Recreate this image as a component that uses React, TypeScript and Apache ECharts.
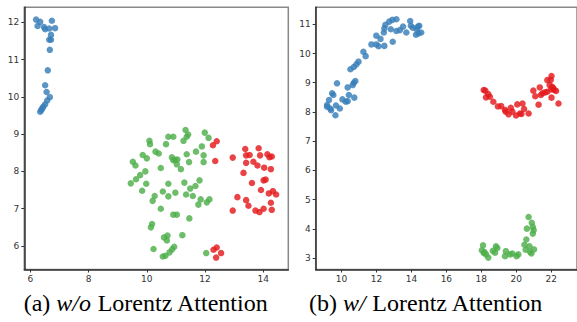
import React, { useEffect, useRef } from "react";
import * as echarts from "echarts";

// (a) w/o Lorentz Attention
const leftBlue: number[][] = [
  [6.2, 12.07], [6.25, 11.9], [6.34, 12.01], [6.47, 11.87], [6.51, 11.81], [6.65, 11.83],
  [6.74, 12.04], [6.85, 11.84], [6.71, 11.66], [6.65, 11.53], [6.71, 11.53], [6.67, 11.26],
  [6.6, 10.71], [6.51, 10.31], [6.56, 10.13], [6.67, 9.99], [6.58, 9.9], [6.51, 9.8],
  [6.45, 9.74], [6.41, 9.69], [6.34, 9.6], [6.38, 9.65],
];
const leftGreen: number[][] = [
  [11.33, 9.11], [11.42, 8.99], [11.37, 8.93], [11.26, 8.82], [10.74, 8.93], [10.91, 8.93],
  [10.09, 8.82], [10.11, 8.73], [10.66, 8.73], [10.3, 8.53], [10.41, 8.48], [9.86, 8.44],
  [10.0, 8.35], [9.52, 8.26], [9.61, 8.16], [10.86, 8.38], [10.97, 8.31], [10.91, 8.3],
  [11.05, 8.32], [11.03, 8.19], [11.17, 8.06], [11.37, 8.46], [11.45, 8.25], [11.69, 8.53],
  [11.89, 8.67], [11.95, 8.43], [11.95, 8.25], [11.99, 9.04], [12.12, 8.9], [10.48, 8.09],
  [9.95, 8.0], [9.77, 7.9], [9.63, 7.79], [9.45, 7.68], [9.98, 7.67], [10.74, 7.67],
  [11.29, 7.7], [11.49, 7.54], [11.67, 7.61], [11.81, 7.76], [9.84, 7.48], [10.27, 7.34],
  [10.55, 7.46], [10.98, 7.43], [11.35, 7.38], [11.58, 7.34], [10.2, 7.21], [10.74, 7.33],
  [11.85, 7.25], [12.15, 7.25], [12.06, 7.17], [11.77, 7.11], [10.48, 7.0], [10.91, 6.84],
  [11.03, 6.84], [11.46, 6.74], [10.18, 6.59], [10.14, 6.5], [10.59, 6.23], [10.71, 6.28],
  [10.69, 6.15], [11.22, 6.29], [10.23, 5.92], [10.55, 5.72], [10.64, 5.74], [10.78, 5.83],
  [10.87, 5.91], [10.94, 5.98], [12.04, 5.81],
];
const leftRed: number[][] = [
  [12.4, 8.81], [12.27, 8.7], [12.35, 8.28], [12.95, 8.37], [13.38, 8.6], [13.41, 8.43],
  [13.53, 8.44], [13.84, 8.62], [13.89, 8.43], [14.14, 8.46], [14.21, 8.38], [14.29, 8.4],
  [13.41, 8.23], [13.66, 8.26], [13.8, 8.16], [14.03, 8.1], [14.26, 8.06], [13.32, 7.96],
  [13.61, 7.69], [14.01, 7.76], [14.08, 7.78], [13.92, 7.5], [14.19, 7.41], [14.33, 7.47],
  [14.44, 7.38], [14.26, 7.16], [13.11, 7.31], [13.41, 7.23], [13.49, 7.08], [12.95, 6.95],
  [13.73, 6.95], [13.87, 6.91], [14.01, 7.0], [14.29, 6.97], [12.4, 5.96], [12.29, 5.9],
  [12.55, 5.81], [12.38, 5.69],
];

// (b) w/ Lorentz Attention
const rightBlue: number[][] = [
  [9.17, 8.24], [9.17, 8.18], [9.28, 8.41], [9.35, 8.12], [9.4, 8.06], [9.46, 8.64],
  [9.53, 8.58], [9.65, 7.89], [9.68, 8.22], [9.74, 8.98], [9.9, 8.12], [10.05, 8.43],
  [10.24, 8.35], [10.35, 8.37], [10.35, 8.84], [10.42, 8.58], [10.64, 8.92], [10.7, 9.0],
  [10.73, 8.49], [10.79, 9.06], [10.51, 9.46], [10.7, 9.54], [10.85, 9.63], [10.97, 9.72],
  [11.25, 10.06], [11.38, 9.91], [11.71, 10.31], [11.99, 10.61], [11.99, 10.31], [12.12, 10.25],
  [12.23, 10.5], [12.45, 10.26], [12.42, 10.72], [12.45, 10.86], [12.51, 10.98], [12.73, 11.09],
  [12.91, 11.15], [13.14, 11.17], [12.82, 10.83], [12.93, 10.4], [13.14, 10.77], [13.34, 10.8],
  [13.52, 10.92], [13.71, 10.72], [13.93, 11.11], [13.97, 10.95], [14.08, 10.88], [14.3, 10.83],
  [14.37, 10.92], [14.45, 10.95], [14.26, 10.64], [14.41, 10.69], [14.56, 10.72],
];
const rightRed: number[][] = [
  [18.14, 8.75], [18.23, 8.73], [18.4, 8.61], [18.27, 8.5], [18.49, 8.52], [18.69, 8.35],
  [18.95, 8.19], [19.14, 8.2], [19.36, 8.07], [19.4, 8.01], [19.56, 7.92], [19.69, 8.14],
  [19.78, 8.01], [19.99, 7.88], [20.06, 8.26], [20.21, 7.95], [20.3, 7.93], [20.36, 8.29],
  [20.45, 8.1], [20.71, 7.95], [20.98, 8.73], [21.09, 8.54], [21.28, 8.25], [21.35, 8.84],
  [21.41, 8.58], [21.5, 8.64], [21.65, 8.67], [21.78, 8.69], [21.78, 9.09], [21.98, 9.1],
  [22.02, 9.23], [21.91, 8.92], [22.0, 8.77], [22.06, 8.86], [22.13, 8.81], [22.18, 8.75],
  [22.28, 8.72], [22.02, 8.49], [22.42, 8.29],
];
const rightGreen: number[][] = [
  [18.1, 3.44], [18.03, 3.27], [18.14, 3.18], [18.27, 3.13], [18.18, 3.21], [18.4, 3.02],
  [18.66, 3.25], [18.79, 3.19], [18.84, 3.41], [18.92, 3.35], [19.36, 3.07], [19.41, 3.24],
  [19.65, 3.13], [19.78, 3.16], [20.02, 3.07], [20.12, 3.13], [20.47, 3.46], [20.54, 3.29],
  [20.58, 3.64], [20.61, 4.01], [20.71, 4.41], [20.76, 3.41], [20.8, 3.21], [20.87, 3.16],
  [20.89, 4.21], [20.95, 4.07], [20.95, 3.84], [21.0, 3.96], [21.02, 3.3],
];

const leftXTicks = [6, 8, 10, 12, 14];
const leftYTicks = [6, 7, 8, 9, 10, 11, 12];
const rightXTicks = [10, 12, 14, 16, 18, 20, 22];
const rightYTicks = [3, 4, 5, 6, 7, 8, 9, 10, 11];

const BLUE = "#377eb8";
const GREEN = "#4daf4a";
const RED = "#e41a1c";

export default function App() {
  const ref = useRef<HTMLDivElement>(null);
  useEffect(() => {
    if (!ref.current) return;
    const chart = echarts.init(ref.current, undefined, { renderer: "svg" });
    const labelStyle = { color: "#333", fontSize: 9, fontFamily: "DejaVu Sans" };
    const mkAxis = (gridIndex: number, min: number, max: number, ticks: number[]) => ({
      type: "value",
      gridIndex,
      min,
      max,
      splitLine: { show: false },
      axisLine: { show: true, onZero: false, lineStyle: { color: "#333", width: 1.5 } },
      axisTick: { show: true, length: 3, customValues: ticks, lineStyle: { color: "#333" } },
      axisLabel: { ...labelStyle, margin: 5, customValues: ticks },
    });
    const sc = (data: number[][], color: string, idx: number) => ({
      type: "scatter",
      xAxisIndex: idx,
      yAxisIndex: idx,
      data,
      symbolSize: 6.5,
      itemStyle: { color, opacity: 0.82 },
    });
    const rich = {
      n: { fontFamily: "Liberation Serif", fontSize: 24, color: "#111" },
      i: { fontFamily: "Liberation Serif", fontStyle: "italic", fontSize: 24, color: "#111" },
    };
    chart.setOption({
      animation: false,
      backgroundColor: "#fff",
      grid: [
        { left: 24.3, top: 7.3, width: 264, height: 262.2, show: true, borderColor: "#888", borderWidth: 1.5 },
        { left: 315.7, top: 7.3, width: 270, height: 262.2, show: true, borderColor: "#888", borderWidth: 1.5 },
      ],
      xAxis: [mkAxis(0, 5.794, 14.858, leftXTicks), mkAxis(1, 8.52, 23.48, rightXTicks)],
      yAxis: [mkAxis(0, 5.37, 12.4, leftYTicks), mkAxis(1, 2.613, 11.58, rightYTicks)],
      series: [
        sc(leftBlue, BLUE, 0),
        sc(leftGreen, GREEN, 0),
        sc(leftRed, RED, 0),
        sc(rightBlue, BLUE, 1),
        sc(rightRed, RED, 1),
        sc(rightGreen, GREEN, 1),
      ],
      graphic: [
        {
          type: "text",
          x: 146,
          y: 303,
          style: {
            text: "{n|(a) }{i|w/o}{n| Lorentz Attention}",
            rich,
            align: "center",
            verticalAlign: "middle",
          },
        },
        {
          type: "text",
          x: 426,
          y: 303,
          style: {
            text: "{n|(b) }{i|w/}{n| Lorentz Attention}",
            rich,
            align: "center",
            verticalAlign: "middle",
          },
        },
      ],
    });
    return () => chart.dispose();
  }, []);
  return (
    <div
      ref={ref}
      style={{ position: "fixed", left: 0, top: 0, width: 577, height: 322, background: "#fff" }}
    />
  );
}
